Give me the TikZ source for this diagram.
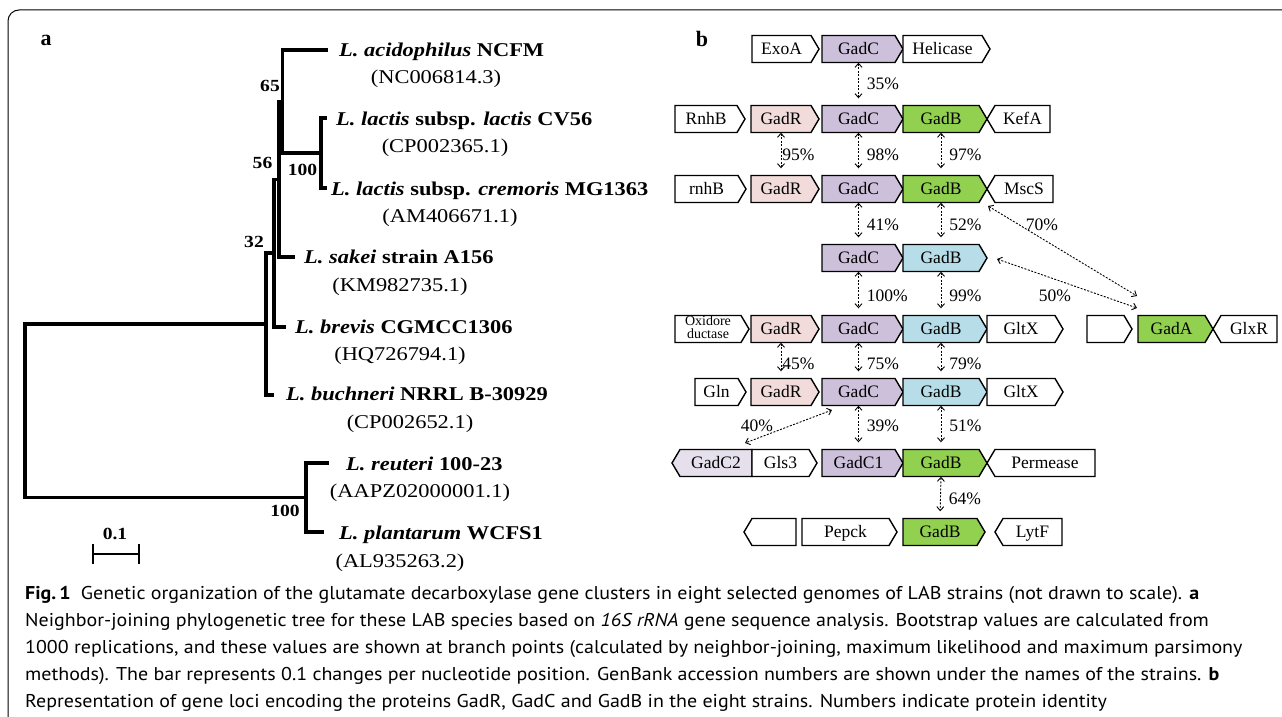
\documentclass[tikz,border=0pt]{standalone}
\usepackage{fontspec}
\setmainfont{Liberation Serif}
\newfontfamily\treefont[FakeStretch=1.15]{Liberation Serif}
\newfontfamily\capfont[FakeStretch=1.08]{PT Sans}
\usetikzlibrary{arrows.meta,calc}
\definecolor{lav}{RGB}{204,192,218}
\definecolor{lavlt}{RGB}{229,224,236}
\definecolor{pinkg}{RGB}{242,220,219}
\definecolor{greeng}{RGB}{146,208,80}
\definecolor{blueg}{RGB}{183,222,232}
\tikzset{
  tree/.style={line width=3.2pt, line join=miter},
  gline/.style={line width=1.4pt, line join=miter, draw=black},
  gtext/.style={inner sep=0pt, minimum height=27pt, text height=11.6pt, text depth=0pt, font=\fontsize{17.5}{20}\selectfont},
  leaf/.style={anchor=west, inner sep=0pt, text height=12.9pt, text depth=0pt, font=\treefont\fontsize{19.5}{21}\selectfont\bfseries},
  acc/.style={anchor=center, inner sep=0pt, text height=12.9pt, text depth=0pt, font=\treefont\fontsize{19.5}{21}\selectfont},
  boot/.style={inner sep=0pt, font=\treefont\fontsize{17}{19}\selectfont\bfseries},
  panel/.style={inner sep=0pt, font=\fontsize{22}{24}\selectfont\bfseries},
  dtip/.style={line width=0.9pt, dash pattern=on 2pt off 1.5pt, {Straight Barb[length=4pt,width=7pt]}-{Straight Barb[length=4pt,width=7pt]}},
  vdbl/.style={dtip, shorten >=7pt},
  pct/.style={inner sep=1pt, font=\fontsize{17.5}{20}\selectfont},
  capline/.style={anchor=base west, inner sep=0pt, font=\capfont\fontsize{18.5}{22}\selectfont},
}
% right-pointing gene: name, left, tip, y, fill, text
\newcommand\gR[6]{%
  \path[gline,fill=#5] (#2,#4-13.5) -- (#3-8,#4-13.5) -- (#3,#4) -- (#3-8,#4+13.5) -- (#2,#4+13.5) -- cycle;
  \node[gtext,minimum width={(#3-8-#2)*1pt}] (#1) at ({(#2+#3-8)/2},#4) {#6};}
% left-pointing gene: name, tip, right, y, fill, text
\newcommand\gL[6]{%
  \path[gline,fill=#5] (#2,#4) -- (#2+8,#4-13.5) -- (#3,#4-13.5) -- (#3,#4+13.5) -- (#2+8,#4+13.5) -- cycle;
  \node[gtext,minimum width={(#3-#2-8)*1pt}] (#1) at ({(#2+8+#3)/2},#4) {#6};}
\begin{document}
\begin{tikzpicture}[x=1pt,y=-1pt]
\useasboundingbox (0,0) rectangle (1282,717);
\fill[white] (0,0) rectangle (1282,717);
\draw[line width=1pt, rounded corners=11pt] (1300,10) -- (8,10) -- (8,740);

% ---------- panel a : tree ----------
\node[panel] (pa) at (46,40) {a};
\coordinate (acid) at (328,50);
\coordinate (lac) at (327,118);
\coordinate (crem) at (327,188);
\coordinate (sak) at (295,257);
\coordinate (brev) at (286,327);
\coordinate (buch) at (274,395);
\coordinate (reut) at (329,463);
\coordinate (plant) at (324,532);
\coordinate (nL) at (321,153);
\coordinate (nA) at (282.5,101.5);
\coordinate (nB) at (279,179.5);
\coordinate (nC) at (274,253);
\coordinate (nD) at (266,324);
\coordinate (nE) at (306,497.5);
\coordinate (root) at (25,410.75);
\draw[tree] (lac) -| (nL) |- (crem);
\draw[tree] (acid) -| (nA) |- (nL);
\draw[tree] (nA) -| (nB) |- (sak);
\draw[tree] (nB) -| (nC) |- (brev);
\draw[tree] (nC) -| (nD) |- (buch);
\draw[tree] (reut) -| (nE) |- (plant);
\draw[tree] (nD) -| (root) |- (nE);

\node[leaf] (t1) at (339,50) {\textit{L. acidophilus} NCFM};
\node[acc] (c1) at (436,77) {(NC006814.3)};
\node[leaf] (t2) at (336,119) {\textit{L. lactis} subsp. \textit{lactis} CV56};
\node[acc] (c2) at (445,146) {(CP002365.1)};
\node[leaf] (t3) at (331,189) {\textit{L. lactis} subsp. \textit{cremoris} MG1363};
\node[acc] (c3) at (450,216) {(AM406671.1)};
\node[leaf] (t4) at (304,257) {\textit{L. sakei} strain A156};
\node[acc] (c4) at (400,285) {(KM982735.1)};
\node[leaf] (t5) at (295,327) {\textit{L. brevis} CGMCC1306};
\node[acc] (c5) at (400,354) {(HQ726794.1)};
\node[leaf] (t6) at (286,394) {\textit{L. buchneri} NRRL B-30929};
\node[acc] (c6) at (410,422) {(CP002652.1)};
\node[leaf] (t7) at (346,464) {\textit{L. reuteri} 100-23};
\node[acc] (c7) at (420,491) {(AAPZ02000001.1)};
\node[leaf] (t8) at (339,533) {\textit{L. plantarum} WCFS1};
\node[acc] (c8) at (400,561) {(AL935263.2)};

\node[boot] (b65) at (270,86) {65};
\node[boot] (b56) at (262.5,163) {56};
\node[boot] (b32) at (254,242) {32};
\node[boot] (b100a) at (302.5,170) {100};
\node[boot] (b100b) at (285,511) {100};

\coordinate (sbl) at (93,554);
\coordinate (sbr) at (139,554);
\draw[line width=2.6pt] (sbl) -- (sbr);
\draw[line width=2.6pt] ($(sbl)+(0,-10)$) -- ($(sbl)+(0,10)$);
\draw[line width=2.6pt] ($(sbr)+(0,-10)$) -- ($(sbr)+(0,10)$);
\node[boot] (sb) at (115,534) {0.1};

% ---------- panel b : genes ----------
\node[panel] (pb) at (702,39) {b};
% row 1
\gR{r1x}{752}{819}{49}{white}{ExoA}
\gR{r1c}{822}{903}{49}{lav}{GadC}
\gR{r1h}{903}{990}{49}{white}{Helicase}
% row 2
\gR{r2n}{675}{745}{119}{white}{RnhB}
\gR{r2r}{751}{819}{119}{pinkg}{GadR}
\gR{r2c}{822}{903}{119}{lav}{GadC}
\gR{r2b}{903}{987}{119}{greeng}{GadB}
\gL{r2k}{987}{1050}{119}{white}{KefA}
% row 3
\gR{r3n}{675}{746}{189}{white}{rnhB}
\gR{r3r}{751}{819}{189}{pinkg}{GadR}
\gR{r3c}{822}{903}{189}{lav}{GadC}
\gR{r3b}{903}{987}{189}{greeng}{GadB}
\gL{r3m}{987}{1053}{189}{white}{MscS}
% row 4
\gR{r4c}{822}{903}{258}{lav}{GadC}
\gR{r4b}{903}{987}{258}{blueg}{GadB}
% row 5
\path[gline,fill=white] (675,315.5) -- (741,315.5) -- (749,329) -- (741,342.5) -- (675,342.5) -- cycle;
\node[inner sep=0pt, align=center, font=\fontsize{14}{12.5}\selectfont] (r5o) at (708,327) {Oxidore\\ductase};
\gR{r5r}{751}{819}{329}{pinkg}{GadR}
\gR{r5c}{822}{903}{329}{lav}{GadC}
\gR{r5b}{903}{987}{329}{blueg}{GadB}
\gR{r5g}{987}{1063}{329}{white}{GltX}
\gR{r5e}{1087}{1132}{329}{white}{}
\gR{r5a}{1138}{1213}{329}{greeng}{GadA}
\gL{r5x}{1213}{1277}{329}{white}{GlxR}
% row 6
\gR{r6n}{695}{746}{392}{white}{Gln}
\gR{r6r}{751}{819}{392}{pinkg}{GadR}
\gR{r6c}{822}{903}{392}{lav}{GadC}
\gR{r6b}{903}{987}{392}{blueg}{GadB}
\gR{r6g}{987}{1063}{392}{white}{GltX}
% row 7
\gL{r7c2}{672}{752}{463}{lavlt}{GadC2}
\gR{r7g}{752}{817}{463}{white}{Gls3}
\gR{r7c}{822}{903}{463}{lav}{GadC1}
\gR{r7b}{903}{987}{463}{greeng}{GadB}
\gL{r7p}{987}{1095}{463}{white}{Permease}
% row 8
\gL{r8e}{744}{796}{532}{white}{}
\gR{r8p}{802}{897}{532}{white}{Pepck}
\gR{r8b}{903}{985}{532}{greeng}{GadB}
\gL{r8l}{995}{1062}{532}{white}{LytF}

% identity arrows
\draw[vdbl] (r1c.south) -- (r2c.north) node[pct,pos=.5,right=7pt] {35\%};
\draw[vdbl] (r2r.south) -- (r3r.north) node[pct,pos=.53,right=0pt] {95\%};
\draw[vdbl] (r2c.south) -- (r3c.north) node[pct,pos=.53,right=7pt] {98\%};
\draw[vdbl] (r2b.south) -- (r3b.north) node[pct,pos=.53,right=7pt] {97\%};
\draw[vdbl] (r3c.south) -- (r4c.north) node[pct,pos=.53,right=7pt] {41\%};
\draw[vdbl] (r3b.south) -- (r4b.north) node[pct,pos=.53,right=7pt] {52\%};
\draw[vdbl] (r4c.south) -- (r5c.north) node[pct,pos=.56,right=7pt] {100\%};
\draw[vdbl] (r4b.south) -- (r5b.north) node[pct,pos=.56,right=7pt] {99\%};
\draw[vdbl] (r5r.south) -- (r6r.north) node[pct,pos=.6,right=0pt] {45\%};
\draw[vdbl] (r5c.south) -- (r6c.north) node[pct,pos=.6,right=7pt] {75\%};
\draw[vdbl] (r5b.south) -- (r6b.north) node[pct,pos=.6,right=7pt] {79\%};
\draw[vdbl] (r6c.south) -- (r7c.north) node[pct,pos=.47,right=7pt] {39\%};
\draw[vdbl] (r6b.south) -- (r7b.north) node[pct,pos=.47,right=7pt] {51\%};
\draw[vdbl] (r7b.south) -- (r8b.north) node[pct,pos=.54,right=7pt] {64\%};

\coordinate (a70s) at (988,206);
\coordinate (a70e) at (1137,296);
\coordinate (a50s) at (997,259);
\coordinate (a50e) at (1137,308);
\coordinate (a40s) at (832,410);
\coordinate (a40e) at (745,443);
\draw[dtip] (a70s) -- (a70e);
\draw[dtip] (a50s) -- (a50e);
\draw[dtip] (a40s) -- (a40e);
\node[pct] (l70) at (1042,225) {70\%};
\node[pct] (l50) at (1055,296) {50\%};
\node[pct] (l40) at (757,426) {40\%};

% ---------- caption ----------
\node[capline] (cap1) at (25,599) {\textbf{Fig.\,1}\hspace{0.55em}Genetic organization of the glutamate decarboxylase gene clusters in eight selected genomes of LAB strains (not drawn to scale). \textbf{a}};
\node[capline] (cap2) at (25,626) {Neighbor-joining phylogenetic tree for these LAB species based on \textit{16S rRNA} gene sequence analysis. Bootstrap values are calculated from};
\node[capline] (cap3) at (25,653) {1000 replications, and these values are shown at branch points (calculated by neighbor-joining, maximum likelihood and maximum parsimony};
\node[capline] (cap4) at (25,680) {methods). The bar represents 0.1 changes per nucleotide position. GenBank accession numbers are shown under the names of the strains. \textbf{b}};
\node[capline] (cap5) at (25,707) {Representation of gene loci encoding the proteins GadR, GadC and GadB in the eight strains. Numbers indicate protein identity};
\end{tikzpicture}
\end{document}
